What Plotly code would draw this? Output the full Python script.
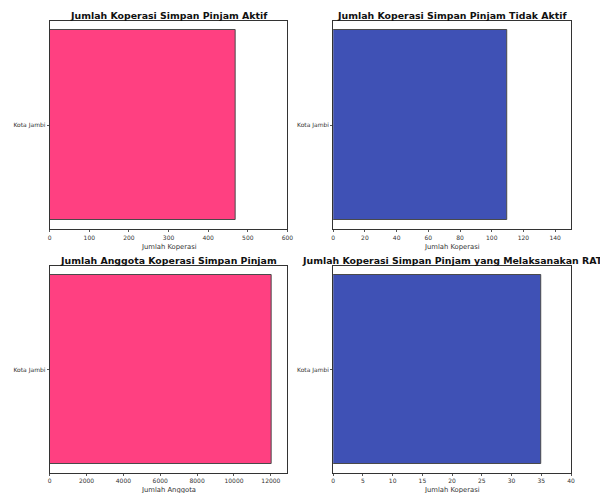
import plotly.graph_objects as go

W, H = 600, 493

categories = ["Kota Jambi"]
aktif = [470]
tidak_aktif = [110]
anggota = [12030]
rat = [35]

titles = [
    "Jumlah Koperasi Simpan Pinjam Aktif",
    "Jumlah Koperasi Simpan Pinjam Tidak Aktif",
    "Jumlah Anggota Koperasi Simpan Pinjam",
    "Jumlah Koperasi Simpan Pinjam yang Melaksanakan RAT",
]
xtitles = ["Jumlah Koperasi", "Jumlah Koperasi", "Jumlah Anggota", "Jumlah Koperasi"]
series = [aktif, tidak_aktif, anggota, rat]
colors = ["#FF4081", "#3F51B5", "#FF4081", "#3F51B5"]
xranges = [[0, 600], [0, 150], [0, 12900], [0, 40]]
dticks = [100, 20, 2000, 5]

# pixel boxes in the reference (left, right, top, bottom)
boxes = [
    (48.3, 289.3, 21, 229.3),
    (335.7, 576.7, 21, 229.3),
    (48.3, 289.3, 266, 473),
    (335.7, 576.7, 266, 473),
]
title_y = [15, 15, 260, 260]
xtitle_y = [246.5, 246.5, 489.5, 489.5]


def px(v):
    return v / W


def py(v):
    return (H - v) / H


fig = go.Figure()
font = "DejaVu Sans"

for i in range(4):
    n = "" if i == 0 else str(i + 1)
    fig.add_trace(go.Bar(
        y=categories, x=series[i], orientation="h",
        marker=dict(color=colors[i], line=dict(color="#4a4a4a", width=1)),
        width=0.8, xaxis="x" + n, yaxis="y" + n, showlegend=False,
    ))
    l, r, t, b = boxes[i]
    fig.update_layout(**{
        "xaxis" + n: dict(
            domain=[px(l), px(r)], range=xranges[i], dtick=dticks[i], tick0=0,
            tickformat="d",
            anchor="y" + n, showgrid=False, zeroline=False,
            showline=True, linecolor="#333333", linewidth=1, mirror=True,
            ticks="outside", ticklen=2, tickcolor="#555555", tickwidth=0.8,
            tickfont=dict(size=6, color="#333333", family=font),
            fixedrange=True,
        ),
        "yaxis" + n: dict(
            domain=[py(b), py(t)], range=[-0.44, 0.44],
            anchor="x" + n, showgrid=False, zeroline=False,
            showline=True, linecolor="#333333", linewidth=1, mirror=True,
            ticks="outside", ticklen=2, tickcolor="#555555", tickwidth=0.8,
            tickfont=dict(size=6, color="#333333", family=font),
            fixedrange=True,
        ),
    })
    cx = px((l + r) / 2)
    fig.add_annotation(
        text="<b>" + titles[i] + "</b>", x=cx, y=py(title_y[i]),
        xref="paper", yref="paper", xanchor="center", yanchor="middle",
        showarrow=False, font=dict(size=9.4, color="#111111", family=font),
    )
    fig.add_annotation(
        text=xtitles[i], x=cx, y=py(xtitle_y[i]),
        xref="paper", yref="paper", xanchor="center", yanchor="middle",
        showarrow=False, font=dict(size=6.8, color="#333333", family=font),
    )

fig.update_layout(
    width=W, height=H, margin=dict(l=0, r=0, t=0, b=0),
    paper_bgcolor="white", plot_bgcolor="white", bargap=0,
)

fig.write_html(
    "out.html",
    config={"displayModeBar": False},
    post_script="document.body.style.margin='0';document.body.style.overflow='hidden';",
)
